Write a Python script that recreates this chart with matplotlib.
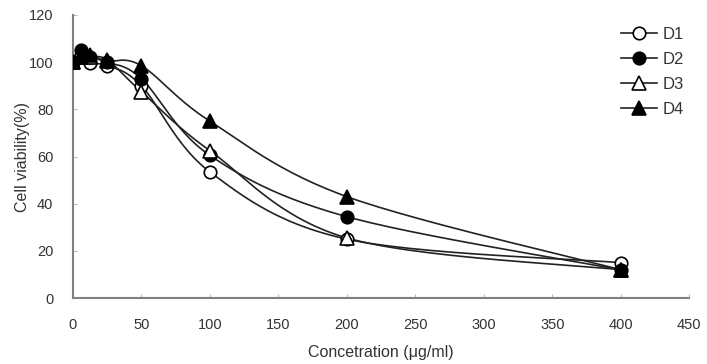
import numpy as np
import matplotlib
matplotlib.use("Agg")
import matplotlib.pyplot as plt

conc = [0, 6.25, 12.5, 25, 50, 100, 200, 400]
d1 = [100, 103, 99.5, 98.5, 90, 53.5, 25, 15]
d2 = [100, 105, 102, 100, 93, 60.5, 34.5, 12]
d3 = [100, 102, 102, 101, 87.5, 62.5, 25.5, 12]
d4 = [100, 102, 103, 100.5, 98.5, 75, 43, 12]
series = [("D1", d1, "o", "white"), ("D2", d2, "o", "black"),
          ("D3", d3, "^", "white"), ("D4", d4, "^", "black")]
xticks = [0, 50, 100, 150, 200, 250, 300, 350, 400, 450]
yticks = [0, 20, 40, 60, 80, 100, 120]

plt.rcParams['font.family'] = ['Liberation Sans', 'DejaVu Sans']


def smooth(x, y, n=30):
    # Excel-like smoothed line (cardinal Bezier segments)
    x = np.asarray(x, float); y = np.asarray(y, float)
    px, py = [], []
    m = len(x)
    for i in range(m - 1):
        x0, y0 = (x[i - 1], y[i - 1]) if i > 0 else (x[i], y[i])
        x3, y3 = (x[i + 2], y[i + 2]) if i + 2 < m else (x[i + 1], y[i + 1])
        c1x = x[i] + (x[i + 1] - x0) / 6.0
        c1y = y[i] + (y[i + 1] - y0) / 6.0
        c2x = x[i + 1] - (x3 - x[i]) / 6.0
        c2y = y[i + 1] - (y3 - y[i]) / 6.0
        t = np.linspace(0, 1, n)
        bx = (1 - t) ** 3 * x[i] + 3 * (1 - t) ** 2 * t * c1x + 3 * (1 - t) * t ** 2 * c2x + t ** 3 * x[i + 1]
        by = (1 - t) ** 3 * y[i] + 3 * (1 - t) ** 2 * t * c1y + 3 * (1 - t) * t ** 2 * c2y + t ** 3 * y[i + 1]
        px.extend(bx); py.extend(by)
    return px, py


fig = plt.figure(figsize=(7.07, 3.64), dpi=100)
ax = fig.add_axes([0.103, 0.181, 0.872, 0.778])

for name, vals, mk, fc in series:
    ms = 9 if mk == "o" else 9.5
    sx, sy = smooth(conc, vals)
    ax.plot(sx, sy, color="#222222", lw=1.2, zorder=2)
    ax.plot(conc, vals, linestyle="none", marker=mk, markersize=ms,
            markerfacecolor=fc, markeredgecolor="black", markeredgewidth=1.2, zorder=3)
    ax.plot([], [], color="#222222", lw=1.2, marker=mk, markersize=ms,
            markerfacecolor=fc, markeredgecolor="black", markeredgewidth=1.2, label=name)

ax.set_xlim(0, 450)
ax.set_ylim(0, 120)
ax.set_xticks(xticks)
ax.set_yticks(yticks)
for s in ["top", "right"]:
    ax.spines[s].set_visible(False)
for s in ["left", "bottom"]:
    ax.spines[s].set_color("#808080")
    ax.spines[s].set_linewidth(1.5)
ax.tick_params(direction="in", length=3, color="#bbbbbb", labelsize=10.5, labelcolor="#333333", pad=14)
ax.tick_params(axis="y", pad=14)
ax.set_xlabel("Concetration (μg/ml)", fontsize=11.5, color="#333333", labelpad=10)
ax.set_ylabel("Cell viability(%)", fontsize=11.5, color="#333333", labelpad=-1)

leg = ax.legend(loc="upper right", bbox_to_anchor=(1.015, 1.01), frameon=False, fontsize=12,
                handlelength=2.2, labelspacing=0.6, handletextpad=0.3)
for t in leg.get_texts():
    t.set_color("#333333")

fig.savefig("out.png", dpi=100)
